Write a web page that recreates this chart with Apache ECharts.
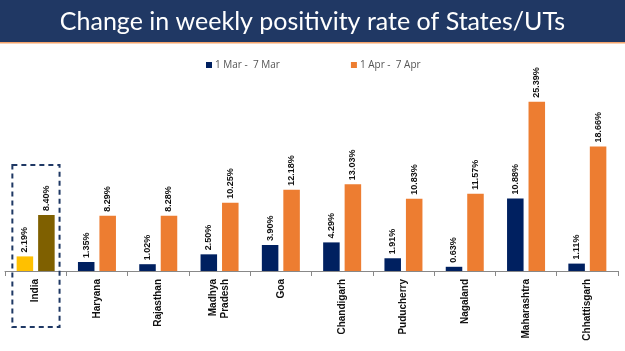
<!DOCTYPE html>
<html>
<head>
<meta charset="utf-8">
<script src="https://cdn.jsdelivr.net/npm/echarts@6/dist/echarts.min.js"></script>
<style>
html,body{margin:0;padding:0;background:#fff;}
#c{width:625px;height:351px;}
</style>
</head>
<body>
<div id="c"></div>
<script>
var titleText = 'Change in weekly positivity rate of States/UTs';
var categories = ['India', 'Haryana', 'Rajasthan', 'Madhya\nPradesh', 'Goa', 'Chandigarh', 'Puducherry', 'Nagaland', 'Maharashtra', 'Chhattisgarh'];
var seriesNames = ['1 Mar -  7 Mar', '1 Apr -  7 Apr'];
var marValues = [2.19, 1.35, 1.02, 2.50, 3.90, 4.29, 1.91, 0.63, 10.88, 1.11];
var aprValues = [8.40, 8.29, 8.28, 10.25, 12.18, 13.03, 10.83, 11.57, 25.39, 18.66];

var NAVY = '#002060', ORANGE = '#ED7D31', YELLOW = '#FFC000', BROWN = '#7F6000';

function buildData(vals, firstColor) {
  return vals.map(function (v, i) {
    return i === 0 ? { value: v, itemStyle: { color: firstColor } } : v;
  });
}

var labelOpt = {
  show: true,
  position: 'top',
  rotate: 90,
  align: 'left',
  verticalAlign: 'middle',
  distance: 4,
  fontSize: 9,
  fontWeight: 'bold',
  color: '#111',
  fontFamily: 'Liberation Sans',
  formatter: function (p) { return p.value.toFixed(2) + '%'; }
};

var chart = echarts.init(document.getElementById('c'), null, { renderer: 'canvas' });
chart.setOption({
  animation: false,
  backgroundColor: '#fff',
  title: {
    text: titleText,
    left: 'center',
    top: 4,
    textStyle: { color: '#fff', fontSize: 25, fontWeight: 'normal', fontFamily: 'Lato' }
  },
  legend: {
    data: seriesNames,
    top: 55,
    left: 201,
    itemGap: 71,
    icon: 'rect',
    itemWidth: 6,
    itemHeight: 6,
    itemStyle: { borderWidth: 0 },
    textStyle: { fontSize: 10, color: '#555', fontFamily: 'Open Sans', padding: [0, 0, 0, -2] }
  },
  grid: { left: 5, right: 7, top: 71, height: 200, containLabel: false },
  xAxis: {
    type: 'category',
    data: categories,
    axisLine: { lineStyle: { color: '#888', width: 1 } },
    axisTick: { show: true, length: 5, lineStyle: { color: '#888' } },
    axisLabel: {
      rotate: 90,
      interval: 0,
      margin: 8,
      fontSize: 10,
      fontWeight: 'bold',
      color: '#111',
      fontFamily: 'Liberation Sans',
      lineHeight: 12
    }
  },
  yAxis: {
    type: 'value',
    min: 0,
    max: 30,
    show: false,
    splitLine: { show: false }
  },
  series: [
    {
      name: seriesNames[0],
      type: 'bar',
      data: buildData(marValues, YELLOW),
      itemStyle: { color: NAVY },
      barGap: '30%',
      barCategoryGap: '38%',
      label: labelOpt
    },
    {
      name: seriesNames[1],
      type: 'bar',
      data: buildData(aprValues, BROWN),
      itemStyle: { color: ORANGE },
      label: labelOpt
    }
  ]
});

// Decorative banner and India highlight box, positioned from the chart's own scales
var p0 = chart.convertToPixel({ xAxisIndex: 0, yAxisIndex: 0 }, [0, 0]);
var p1 = chart.convertToPixel({ xAxisIndex: 0, yAxisIndex: 0 }, [1, 0]);
var pTop = chart.convertToPixel({ yAxisIndex: 0 }, 15.9);
var band = p1[0] - p0[0];
var bx0 = p0[0] - band * 0.38;
var bx1 = p0[0] + band * 0.39;
chart.setOption({
  graphic: [
    { type: 'rect', z: -10, shape: { x: 0, y: 0, width: 625, height: 42 }, style: { fill: '#203864' }, silent: true },
    { type: 'rect', z: -10, shape: { x: 0, y: 42, width: 625, height: 1.5 }, style: { fill: '#F4A36B' }, silent: true },
    {
      type: 'rect', z: 10,
      shape: { x: bx0, y: pTop, width: bx1 - bx0, height: (p0[1] + 56) - pTop },
      style: { fill: 'none', stroke: '#1F3864', lineWidth: 2, lineDash: [5, 4] },
      silent: true
    }
  ]
});
</script>
</body>
</html>
